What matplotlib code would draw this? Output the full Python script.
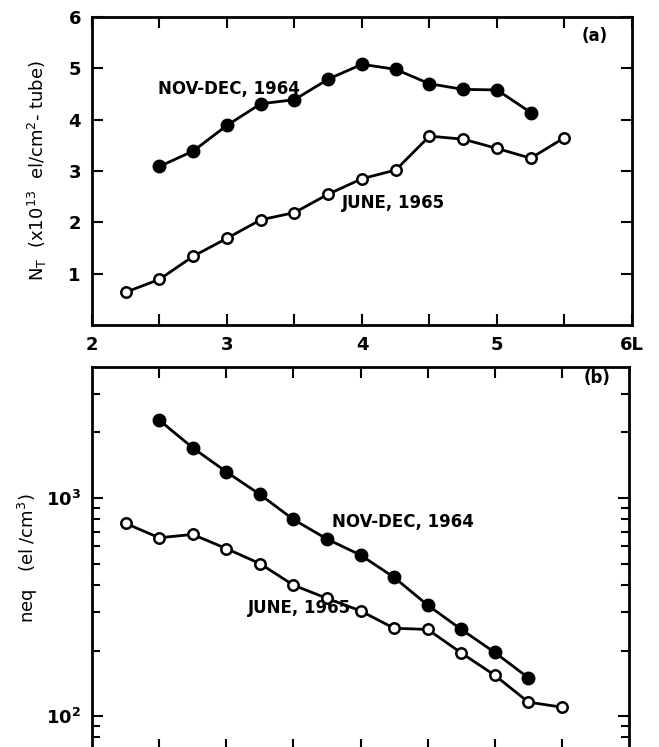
import matplotlib
matplotlib.use("Agg")
import matplotlib.pyplot as plt
import numpy as np
from matplotlib.ticker import FixedLocator, LogLocator, NullFormatter

plt.rcParams["font.family"] = ["DejaVu Sans"]
plt.rcParams["font.weight"] = "bold"
plt.rcParams["mathtext.default"] = "regular"

# L-shell values
L_nov = [2.5, 2.75, 3.0, 3.25, 3.5, 3.75, 4.0, 4.25, 4.5, 4.75, 5.0, 5.25]
L_jun = [2.25, 2.5, 2.75, 3.0, 3.25, 3.5, 3.75, 4.0, 4.25, 4.5, 4.75, 5.0, 5.25, 5.5]

# (a) tube content N_T (x1e13 el/cm^2-tube)
nt_nov = [3.09, 3.39, 3.89, 4.31, 4.39, 4.79, 5.08, 4.98, 4.70, 4.59, 4.58, 4.14]
nt_jun = [0.64, 0.89, 1.34, 1.69, 2.05, 2.19, 2.55, 2.85, 3.02, 3.68, 3.62, 3.44, 3.25, 3.65]

# (b) equatorial density neq (el/cm^3)
neq_nov = [2280, 1700, 1320, 1040, 798, 649, 548, 433, 323, 250, 196, 150]
neq_jun = [766, 658, 681, 587, 501, 399, 347, 304, 253, 250, 195, 154, 116, 110]

fig = plt.figure(figsize=(6.59, 7.47), dpi=100)
ax1 = fig.add_axes([0.1396, 0.5649, 0.8194, 0.4123])
ax2 = fig.add_axes([0.1396, -0.004, 0.815, 0.5127])

lw = 2.0
filled = dict(color="black", marker="o", markersize=9, lw=lw)
opened = dict(color="black", marker="o", markersize=7.5, lw=lw,
              markerfacecolor="white", markeredgewidth=1.8)

# panel (a)
ax1.plot(L_nov, nt_nov, **filled)
ax1.plot(L_jun, nt_jun, **opened)
ax1.set_xlim(2, 6)
ax1.set_ylim(0, 6)
ax1.xaxis.set_major_locator(FixedLocator([2, 3, 4, 5, 6]))
ax1.set_xticklabels(["2", "3", "4", "5", "6L"])
ax1.xaxis.set_minor_locator(FixedLocator([2.5, 3.5, 4.5, 5.5]))
ax1.yaxis.set_major_locator(FixedLocator([1, 2, 3, 4, 5, 6]))
ax1.set_ylabel("N$_T$  (x10$^{13}$  el/cm$^2$- tube)", fontsize=13, labelpad=14)
ax1.text(2.49, 4.6, "NOV-DEC, 1964", fontsize=12, va="center")
ax1.text(3.85, 2.38, "JUNE, 1965", fontsize=12, va="center")
ax1.text(5.63, 5.63, "(a)", fontsize=12, va="center")

# panel (b)
ax2.plot(L_nov, neq_nov, **filled)
ax2.plot(L_jun, neq_jun, **opened)
ax2.set_yscale("log")
ax2.set_xlim(2, 6)
ax2.set_ylim(70, 3990)
ax2.xaxis.set_major_locator(FixedLocator([2.5, 3, 3.5, 4, 4.5, 5, 5.5]))
ax2.set_xticklabels([])
ax2.yaxis.set_major_locator(FixedLocator([100, 1000]))
ax2.yaxis.set_minor_locator(LogLocator(base=10, subs=np.arange(2, 10)))
ax2.yaxis.set_minor_formatter(NullFormatter())
ax2.set_yticklabels(["10$^2$", "10$^3$"])
ax2.set_ylabel("neq   (el /cm$^3$)", fontsize=13, labelpad=4)
ax2.text(3.79, 776, "NOV-DEC, 1964", fontsize=12, va="center")
ax2.text(3.16, 312, "JUNE, 1965", fontsize=12, va="center")
ax2.text(5.66, 3550, "(b)", fontsize=12, va="center")

for ax in (ax1, ax2):
    for s in ax.spines.values():
        s.set_linewidth(2)
    ax.tick_params(which="both", direction="in", top=True, right=True,
                   width=1.5, labelsize=13)
    ax.tick_params(which="major", length=8, pad=8)
    ax.tick_params(which="minor", length=8)
ax2.tick_params(which="minor", length=6)

fig.savefig("out.png", dpi=100)
